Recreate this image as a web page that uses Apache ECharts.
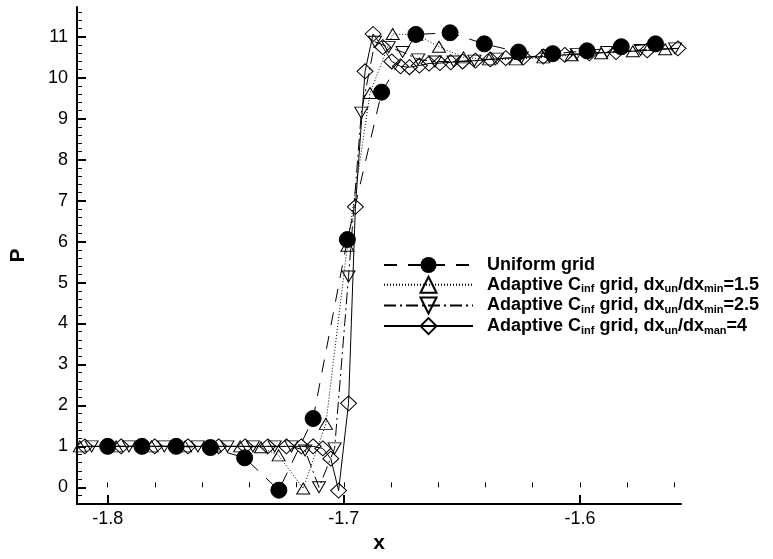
<!DOCTYPE html>
<html>
<head>
<meta charset="utf-8">
<script src="https://cdn.jsdelivr.net/npm/echarts@6/dist/echarts.min.js"></script>
<style>
html,body{margin:0;padding:0;background:#fff;}
#chart{width:773px;height:559px;}
</style>
</head>
<body>
<div id="chart"></div>
<script>
// ---- data ----
var seriesNames = [
  'Uniform grid',
  'Adaptive Cinf grid, dxun/dxmin=1.5',
  'Adaptive Cinf grid, dxun/dxmin=2.5',
  'Adaptive Cinf grid, dxun/dxman=4'
];
var uniformX = [-1.8, -1.7855, -1.771, -1.7565, -1.742, -1.7275, -1.713, -1.6985, -1.684, -1.6695, -1.655, -1.6405, -1.626, -1.6115, -1.597, -1.5825, -1.568];
var uniformP = [1.0, 1.0, 1.0, 0.97, 0.72, -0.07, 1.68, 6.05, 9.65, 11.06, 11.1, 10.83, 10.63, 10.59, 10.66, 10.76, 10.83];

var adapt15X = [-1.8118, -1.7964, -1.7814, -1.7672, -1.7547, -1.7439, -1.7351, -1.7276, -1.7172, -1.7076, -1.6985, -1.6889, -1.6793, -1.6693, -1.6597, -1.6493, -1.6385, -1.6272, -1.6155, -1.6035, -1.591, -1.5776, -1.5639];
var adapt15P = [1.0, 1.0, 1.0, 1.0, 1.0, 1.0, 0.98, 0.78, -0.03, 1.55, 5.9, 9.63, 11.07, 11.05, 10.76, 10.5, 10.45, 10.45, 10.5, 10.55, 10.6, 10.65, 10.7];

var adapt25X = [-1.8068, -1.791, -1.776, -1.7618, -1.7493, -1.7385, -1.7293, -1.7222, -1.7164, -1.7105, -1.7039, -1.698, -1.6926, -1.6868, -1.681, -1.6751, -1.6685, -1.6614, -1.6535, -1.6447, -1.6351, -1.6247, -1.6135, -1.6014, -1.5885, -1.5743, -1.5597];
var adapt25P = [1.0, 1.0, 1.0, 1.0, 1.0, 1.0, 1.0, 1.0, 0.9, 0.0, 0.95, 5.15, 9.15, 10.88, 10.75, 10.63, 10.45, 10.4, 10.4, 10.42, 10.47, 10.5, 10.55, 10.58, 10.63, 10.68, 10.72];

var adapt4X = [-1.8097, -1.7943, -1.7801, -1.766, -1.753, -1.7418, -1.7322, -1.7243, -1.718, -1.713, -1.7089, -1.7055, -1.7022, -1.698, -1.6951, -1.691, -1.6876, -1.6835, -1.6797, -1.676, -1.6722, -1.668, -1.6639, -1.6593, -1.6547, -1.6497, -1.6443, -1.638, -1.6314, -1.6239, -1.6155, -1.6064, -1.596, -1.5847, -1.5715, -1.5585];
var adapt4P = [1.0, 1.0, 1.0, 1.0, 1.0, 1.0, 1.0, 1.0, 1.0, 1.0, 0.95, 0.7, -0.08, 2.05, 6.85, 10.16, 11.07, 10.75, 10.4, 10.28, 10.26, 10.3, 10.35, 10.36, 10.38, 10.4, 10.42, 10.45, 10.48, 10.5, 10.52, 10.56, 10.6, 10.63, 10.67, 10.72];

var xMajorTicks = [-1.8, -1.7, -1.6];
var xMinorTicks = [-1.8, -1.78, -1.76, -1.74, -1.72, -1.7, -1.68, -1.66, -1.64, -1.62, -1.6, -1.58, -1.56];
var yMajorTicks = [0, 1, 2, 3, 4, 5, 6, 7, 8, 9, 10, 11];
var yMinorTicks = [-0.4, -0.2, 0, 0.2, 0.4, 0.6, 0.8, 1, 1.2, 1.4, 1.6, 1.8, 2, 2.2, 2.4, 2.6, 2.8, 3, 3.2, 3.4, 3.6, 3.8, 4, 4.2, 4.4, 4.6, 4.8, 5, 5.2, 5.4, 5.6, 5.8, 6, 6.2, 6.4, 6.6, 6.8, 7, 7.2, 7.4, 7.6, 7.8, 8, 8.2, 8.4, 8.6, 8.8, 9, 9.2, 9.4, 9.6, 9.8, 10, 10.2, 10.4, 10.6, 10.8, 11, 11.2, 11.4, 11.6];

function pairs(xs, ys) { return xs.map(function (x, i) { return [x, ys[i]]; }); }

var legendRich = {};
legendRich[seriesNames[0]] = '{sp| }{t|Uniform grid}';
legendRich[seriesNames[1]] = '{sp| }{t|Adaptive C}{s|inf}{t| grid, dx}{s|un}{t|/dx}{s|min}{t|=1.5}';
legendRich[seriesNames[2]] = '{sp| }{t|Adaptive C}{s|inf}{t| grid, dx}{s|un}{t|/dx}{s|min}{t|=2.5}';
legendRich[seriesNames[3]] = '{sp| }{t|Adaptive C}{s|inf}{t| grid, dx}{s|un}{t|/dx}{s|man}{t|=4}';

var FONT = 'Liberation Sans, Arial, Helvetica, sans-serif';
var hollow = { color: 'rgba(0,0,0,0)', borderColor: '#000', borderWidth: 1 };

var xMin = -1.813, xMax = -1.5572, yMin = -0.41, yMax = 11.73;

var chart = echarts.init(document.getElementById('chart'), null, { renderer: 'canvas' });
chart.setOption({
  animation: false,
  backgroundColor: '#fff',
  grid: { left: 67, right: 92, top: 7, bottom: 48, containLabel: false },
  legend: {
    orient: 'vertical',
    left: 378,
    top: 251,
    itemWidth: 89,
    itemHeight: 20,
    itemGap: 1.7,
    selectedMode: false,
    data: seriesNames,
    formatter: function (name) { return legendRich[name]; },
    textStyle: {
      fontFamily: FONT, fontWeight: 'bold', fontSize: 18, color: '#000',
      rich: {
        sp: { width: 9 },
        t: { fontFamily: FONT, fontWeight: 'bold', fontSize: 18, color: '#000', lineHeight: 20 },
        s: { fontFamily: FONT, fontWeight: 'bold', fontSize: 11, color: '#000', lineHeight: 6, verticalAlign: 'bottom' }
      }
    }
  },
  xAxis: [{
    type: 'value', min: xMin, max: xMax,
    name: 'x', nameLocation: 'middle', nameGap: 22,
    nameTextStyle: { fontFamily: FONT, fontWeight: 'bold', fontSize: 21, color: '#000' },
    axisLine: { show: true, onZero: false, lineStyle: { color: '#000', width: 2 } },
    axisTick: { show: true, inside: true, length: 9, customValues: xMajorTicks, lineStyle: { color: '#000', width: 2 } },
    axisLabel: { show: true, margin: 6, customValues: xMajorTicks, fontFamily: FONT, fontSize: 18, color: '#000',
      formatter: function (v) { return v.toFixed(1); } },
    splitLine: { show: false }
  }, {
    type: 'value', min: xMin, max: xMax, position: 'bottom',
    axisLine: { show: false },
    axisTick: { show: true, inside: true, length: 5, customValues: xMinorTicks, lineStyle: { color: '#000', width: 1 } },
    axisLabel: { show: false },
    splitLine: { show: false }
  }],
  yAxis: [{
    type: 'value', min: yMin, max: yMax,
    name: 'P', nameLocation: 'middle', nameGap: 48, nameRotate: 90,
    nameTextStyle: { fontFamily: FONT, fontWeight: 'bold', fontSize: 21, color: '#000' },
    axisLine: { show: true, onZero: false, lineStyle: { color: '#000', width: 2 } },
    axisTick: { show: true, inside: true, length: 9, customValues: yMajorTicks, lineStyle: { color: '#000', width: 2 } },
    axisLabel: { show: true, margin: 9, customValues: yMajorTicks, fontFamily: FONT, fontSize: 18, color: '#000' },
    splitLine: { show: false }
  }, {
    type: 'value', min: yMin, max: yMax, position: 'left',
    axisLine: { show: false },
    axisTick: { show: true, inside: true, length: 5, customValues: yMinorTicks, lineStyle: { color: '#000', width: 1 } },
    axisLabel: { show: false },
    splitLine: { show: false }
  }],
  series: [{
    name: seriesNames[0], type: 'line', xAxisIndex: 0, yAxisIndex: 0,
    data: pairs(uniformX, uniformP),
    symbol: 'circle', symbolSize: 16,
    itemStyle: { color: '#000', borderColor: '#000' },
    lineStyle: { color: '#000', width: 1, type: [13, 11] },
    z: 2
  }, {
    name: seriesNames[1], type: 'line', xAxisIndex: 0, yAxisIndex: 0,
    data: pairs(adapt15X, adapt15P),
    symbol: 'triangle', symbolSize: [13, 11],
    itemStyle: hollow,
    lineStyle: { color: '#000', width: 1, type: [1, 2] },
    z: 3
  }, {
    name: seriesNames[2], type: 'line', xAxisIndex: 0, yAxisIndex: 0,
    data: pairs(adapt25X, adapt25P),
    symbol: 'path://M0,0 L10,0 L5,9 Z', symbolSize: [13, 11],
    itemStyle: hollow,
    lineStyle: { color: '#000', width: 1, type: [12, 4, 2, 4] },
    z: 4
  }, {
    name: seriesNames[3], type: 'line', xAxisIndex: 0, yAxisIndex: 0,
    data: pairs(adapt4X, adapt4P),
    symbol: 'diamond', symbolSize: [16, 15],
    itemStyle: hollow,
    lineStyle: { color: '#000', width: 1, type: 'solid' },
    z: 5
  }]
});
</script>
</body>
</html>
